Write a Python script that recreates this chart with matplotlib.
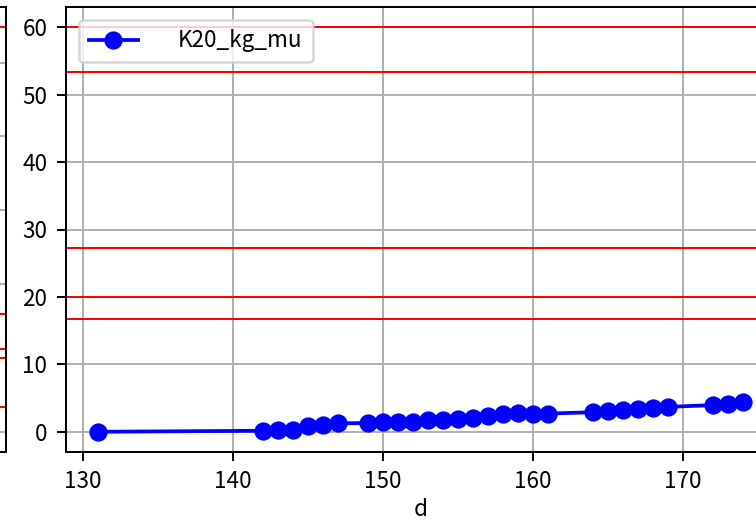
import matplotlib
matplotlib.use("Agg")
import matplotlib.pyplot as plt

plt.rcParams['font.family'] = ['Noto Sans CJK JP', 'DejaVu Sans']
plt.rcParams['font.size'] = 9

# main series
d_values = [131, 142, 143, 144, 145, 146, 147, 149, 150, 151, 152, 153, 154, 155,
            156, 157, 158, 159, 160, 161, 164, 165, 166, 167, 168, 169, 172, 173, 174]
k20_kg_mu = [0.0, 0.15, 0.2, 0.3, 0.8, 1.05, 1.25, 1.3, 1.45, 1.5, 1.5, 1.7, 1.8, 1.85,
             2.0, 2.3, 2.6, 2.75, 2.7, 2.7, 2.9, 3.1, 3.3, 3.45, 3.6, 3.7, 3.95, 4.1, 4.35]
series_label = "K20_kg_mu"
x_label = "d"

# red reference levels in main panel
main_levels = [60.0, 53.3, 27.3, 20.0, 16.8]
# neighbouring (cropped) panel on the left
left_levels = [54.8, 15.9, 11.2, 10.0, 3.3]
left_ymax = 54.8

W, H, DPI = 756, 522, 180
fig = plt.figure(figsize=(W / DPI, H / DPI), dpi=DPI)

# cropped neighbour panel (only its right edge is visible)
axl = fig.add_axes([-0.8, (522 - 452) / 522, 0.8 + 5.5 / W, 445 / 522])
for v in left_levels:
    axl.axhline(v, color='red', lw=0.8)
axl.set_ylim(-0.05 * left_ymax, 1.05 * left_ymax)
axl.set_yticks([0, 10, 20, 30, 40, 50])
axl.grid(True, axis='y')
axl.set_xticks([])
axl.tick_params(left=False, labelleft=False)

# main panel
ax = fig.add_axes([66 / W, (522 - 452) / 522, 709.5 / W, 445 / 522])
for v in main_levels:
    ax.axhline(v, color='red', lw=0.8)
ax.plot(d_values, k20_kg_mu, color='blue', marker='o', markersize=6.3, lw=1.5,
        label=series_label)
ax.set_xlim(128.85, 176.15)
ax.set_ylim(-3, 63)
ax.set_xticks([130, 140, 150, 160, 170])
ax.set_yticks([0, 10, 20, 30, 40, 50, 60])
ax.tick_params(axis='y', pad=4.0)
ax.tick_params(axis='x', pad=3.5)
ax.grid(True)
ax.set_xlabel(x_label, labelpad=2)
ax.legend(loc='upper left', borderaxespad=0.556, borderpad=0.444,
          handlelength=2.22, handletextpad=1.76)

fig.savefig("out.png", dpi=DPI)
